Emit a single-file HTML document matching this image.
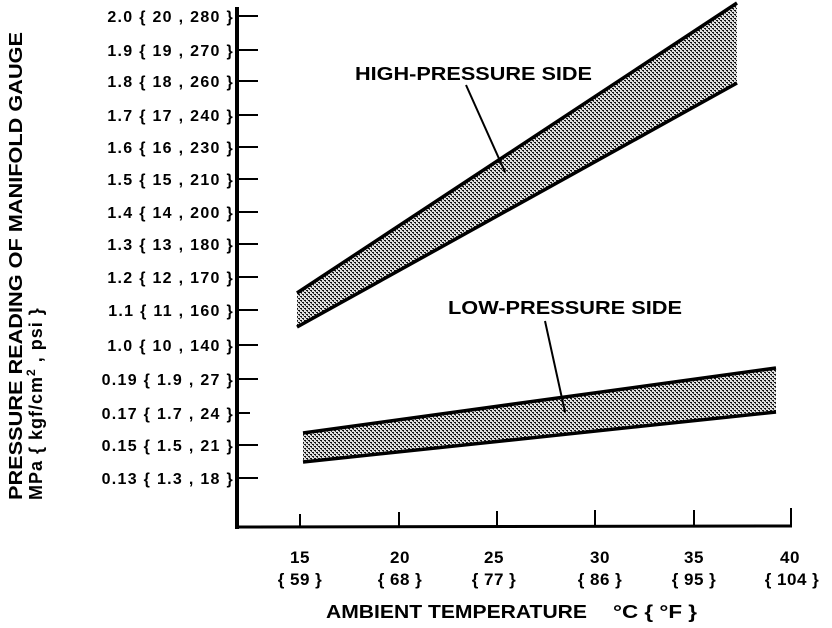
<!DOCTYPE html>
<html><head><style>
html,body{margin:0;padding:0;background:#fff;}
svg{display:block;font-family:"Liberation Sans",Arial,sans-serif;}
</style></head><body>
<svg width="832" height="628" viewBox="0 0 832 628" xmlns="http://www.w3.org/2000/svg">
<defs>
<pattern id="dots" width="4" height="4" patternUnits="userSpaceOnUse">
<rect width="4" height="4" fill="#e0e0e0"/>
<rect width="2" height="1" fill="#111"/>
<rect x="2" y="2" width="2" height="1" fill="#111"/>
<rect x="1" y="1" width="1" height="1" fill="#444"/>
<rect x="3" y="3" width="1" height="1" fill="#444"/>
</pattern>
</defs>
<g stroke="#000" fill="none">
<line x1="237" y1="7" x2="237" y2="529" stroke-width="4"/>
<line x1="235" y1="527" x2="792" y2="526" stroke-width="3"/>
<line x1="791" y1="508" x2="791" y2="527" stroke-width="2"/>
<g stroke-width="2">
<line x1="237" y1="16" x2="258" y2="16"/><line x1="237" y1="50" x2="258" y2="50"/>
<line x1="237" y1="81" x2="258" y2="81"/><line x1="237" y1="115" x2="258" y2="115"/>
<line x1="237" y1="147" x2="258" y2="147"/><line x1="237" y1="179" x2="258" y2="179"/>
<line x1="237" y1="212" x2="258" y2="212"/><line x1="237" y1="244" x2="258" y2="244"/>
<line x1="237" y1="277" x2="258" y2="277"/><line x1="237" y1="310" x2="258" y2="310"/>
<line x1="237" y1="345" x2="258" y2="345"/><line x1="237" y1="379" x2="258" y2="379"/>
<line x1="237" y1="413" x2="250" y2="413"/><line x1="237" y1="445" x2="258" y2="445"/>
<line x1="237" y1="478" x2="258" y2="478"/>
<line x1="300" y1="514" x2="300" y2="527"/><line x1="399" y1="512" x2="399" y2="527"/>
<line x1="497" y1="511" x2="497" y2="527"/><line x1="595" y1="510" x2="595" y2="527"/>
<line x1="694" y1="510" x2="694" y2="527"/>
</g>
<polygon points="297,293 737,3 737,83 297,327" fill="url(#dots)" stroke="none"/>
<polygon points="303,433 776,368 776,412 303,462" fill="url(#dots)" stroke="none"/>
<g stroke-width="3.5">
<line x1="297" y1="293" x2="737" y2="3"/><line x1="297" y1="327" x2="737" y2="83"/>
<line x1="303" y1="433" x2="776" y2="368"/><line x1="303" y1="462" x2="776" y2="412"/>
</g>
<line x1="466" y1="85" x2="505" y2="172" stroke-width="2"/>
<line x1="545" y1="321" x2="565" y2="412" stroke-width="2"/>
</g>
<g font-size="16" font-weight="bold" letter-spacing="1.3" fill="#000" text-anchor="end">
<text x="234" y="22">2.0 { 20 , 280 }</text>
<text x="234" y="56">1.9 { 19 , 270 }</text>
<text x="234" y="87">1.8 { 18 , 260 }</text>
<text x="234" y="121">1.7 { 17 , 240 }</text>
<text x="234" y="153">1.6 { 16 , 230 }</text>
<text x="234" y="185">1.5 { 15 , 210 }</text>
<text x="234" y="218">1.4 { 14 , 200 }</text>
<text x="234" y="250">1.3 { 13 , 180 }</text>
<text x="234" y="283">1.2 { 12 , 170 }</text>
<text x="234" y="316">1.1 { 11 , 160 }</text>
<text x="234" y="351">1.0 { 10 , 140 }</text>
<text x="234" y="385">0.19 { 1.9 , 27 }</text>
<text x="234" y="419">0.17 { 1.7 , 24 }</text>
<text x="234" y="451">0.15 { 1.5 , 21 }</text>
<text x="234" y="484">0.13 { 1.3 , 18 }</text>
</g>
<g font-size="17" font-weight="bold" letter-spacing="0.5" fill="#000" text-anchor="middle">
<text x="300" y="563">15</text><text x="300" y="585">{ 59 }</text>
<text x="400" y="563">20</text><text x="400" y="585">{ 68 }</text>
<text x="494" y="563">25</text><text x="494" y="585">{ 77 }</text>
<text x="600" y="563">30</text><text x="600" y="585">{ 86 }</text>
<text x="694" y="563">35</text><text x="694" y="585">{ 95 }</text>
<text x="790" y="563">40</text><text x="792" y="585">{ 104 }</text>
</g>
<g font-size="18" font-weight="bold" fill="#000">
<text x="326" y="618" textLength="261" lengthAdjust="spacingAndGlyphs">AMBIENT TEMPERATURE</text>
<text x="613" y="618" textLength="84" lengthAdjust="spacingAndGlyphs">°C { °F }</text>
<text x="355" y="80" textLength="237" lengthAdjust="spacingAndGlyphs">HIGH-PRESSURE SIDE</text>
<text x="448" y="314" textLength="234" lengthAdjust="spacingAndGlyphs">LOW-PRESSURE SIDE</text>
<text transform="translate(22,500) rotate(-90)" textLength="468" lengthAdjust="spacingAndGlyphs">PRESSURE READING OF MANIFOLD GAUGE</text>
<text transform="translate(42,500) rotate(-90)" letter-spacing="1">MPa { kgf/cm<tspan font-size="12" dy="-7">2</tspan><tspan dy="7"> , psi }</tspan></text>
</g>
</svg>
</body></html>
